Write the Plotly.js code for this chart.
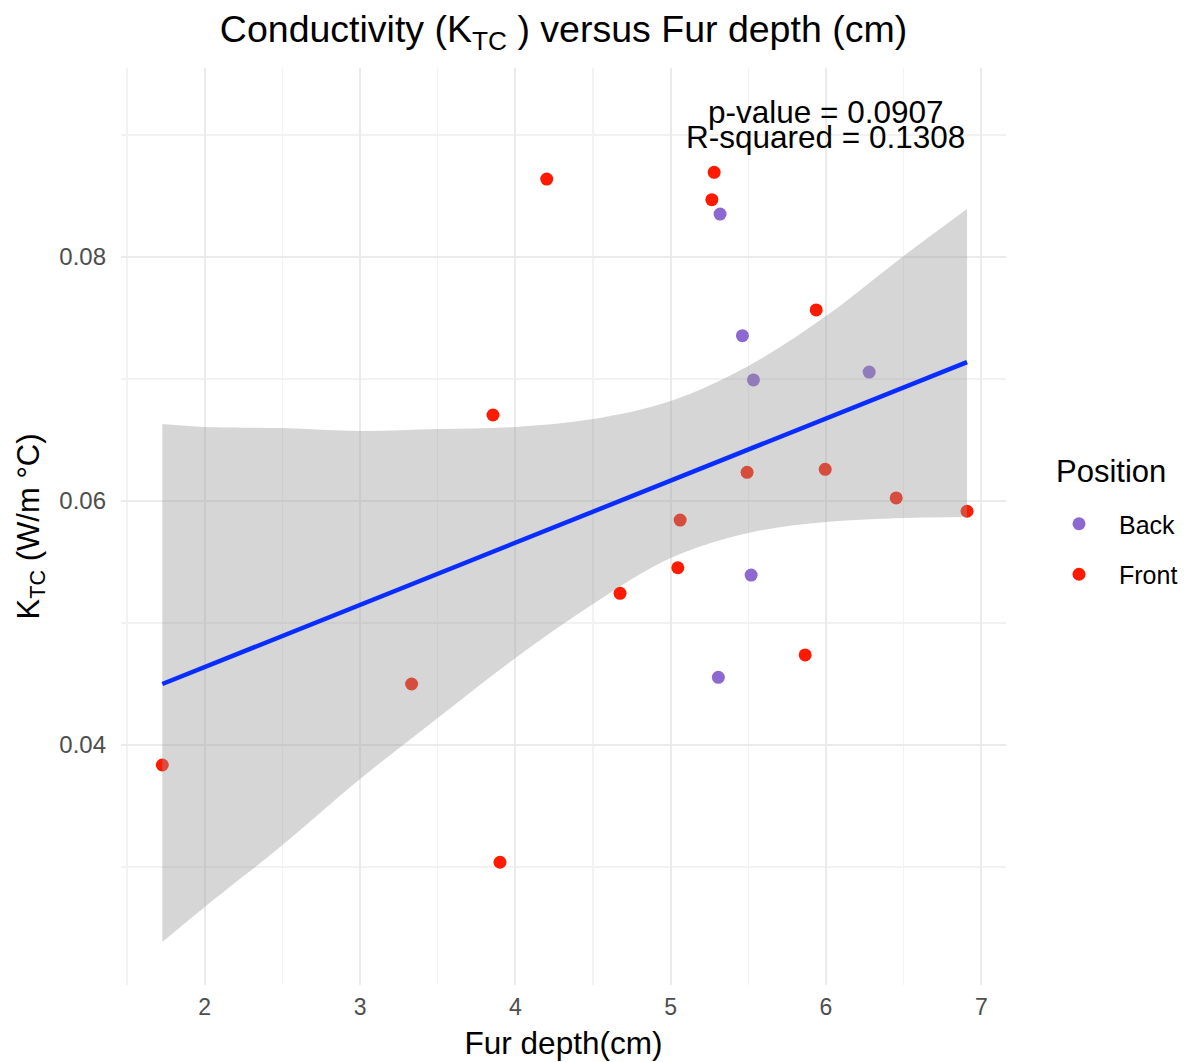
<!DOCTYPE html>
<html>
<head>
<meta charset="utf-8">
<script src="https://cdn.plot.ly/plotly-3.0.1.min.js"></script>
<style>html,body{margin:0;padding:0;background:#fff;}#chart{width:1186px;height:1062px;}</style>
</head>
<body>
<div id="chart"></div>
<script>
// Points
const backX  = [5.318, 5.462, 5.533, 5.518, 5.307, 6.278];
const backY  = [0.08352, 0.07355, 0.06992, 0.05393, 0.04555, 0.07057];
const frontX = [1.727, 3.332, 3.856, 3.901, 4.202, 4.674, 5.046, 5.061, 5.280, 5.265, 5.492, 5.937, 5.995, 5.866, 6.452, 6.908];
const frontY = [0.03836, 0.04500, 0.06705, 0.03039, 0.08639, 0.05243, 0.05453, 0.05844, 0.08694, 0.08470, 0.06235, 0.07566, 0.06260, 0.04738, 0.06025, 0.05916];

// Fitted line and confidence band
const fitX   = [1.727, 6.908];
const fitY   = [0.04500, 0.07139];
const bandX     = [1.727, 2.0, 2.5, 3.0, 3.5, 4.0, 4.5, 5.0, 5.5, 6.0, 6.5, 6.908];
const bandUpper = [0.06631, 0.06607, 0.06598, 0.06574, 0.06590, 0.06607, 0.06672, 0.06820, 0.07107, 0.07516, 0.08008, 0.08393];
const bandLower = [0.02385, 0.02672, 0.03180, 0.03721, 0.04221, 0.04713, 0.05156, 0.05533, 0.05738, 0.05828, 0.05861, 0.05869];

const xTicks = [2, 3, 4, 5, 6, 7];
const yTicks = [0.04, 0.06, 0.08];
const yTickText = ['0.04', '0.06', '0.08'];

const FONT = 'Liberation Sans, Arial, Helvetica, sans-serif';

const traces = [
  {x: backX, y: backY, type: 'scatter', mode: 'markers', name: 'Back', legendgroup: 'b',
   marker: {color: '#8c68d0', size: 13, line: {width: 0}}, hoverinfo: 'skip'},
  {x: frontX, y: frontY, type: 'scatter', mode: 'markers', name: 'Front', legendgroup: 'f',
   marker: {color: '#ff1a00', size: 13, line: {width: 0}}, hoverinfo: 'skip'},
  {x: bandX, y: bandLower, type: 'scatter', mode: 'lines', line: {width: 0, shape: 'spline'},
   showlegend: false, hoverinfo: 'skip'},
  {x: bandX, y: bandUpper, type: 'scatter', mode: 'lines', line: {width: 0, shape: 'spline'},
   fill: 'tonexty', fillcolor: 'rgba(153,153,153,0.4)', showlegend: false, hoverinfo: 'skip'},
  {x: fitX, y: fitY, type: 'scatter', mode: 'lines', line: {color: '#0a2dff', width: 4.5},
   showlegend: false, hoverinfo: 'skip'}
];

const layout = {
  width: 1186, height: 1062,
  margin: {l: 121, r: 180, t: 68, b: 77, autoexpand: false},
  paper_bgcolor: '#ffffff', plot_bgcolor: '#ffffff',
  font: {family: FONT, color: '#000'},
  title: {text: 'Conductivity (K<sub>TC</sub> ) versus Fur depth (cm)', font: {size: 37.5, color: '#000', family: FONT},
          x: 0.5, xref: 'paper', xanchor: 'center', y: 0.973, yref: 'container', yanchor: 'middle'},
  xaxis: {range: [1.461, 7.159], tickvals: xTicks, ticktext: xTicks.map(String),
          showgrid: true, gridcolor: '#ebebeb', gridwidth: 2, zeroline: false, showline: false, ticks: '',
          tickfont: {size: 23, color: '#4d4d4d', family: FONT}, ticklabelstandoff: 6,
          minor: {dtick: 0.5, tick0: 1.5, showgrid: true, gridcolor: '#f2f2f2', gridwidth: 1.2, ticks: ''},
          title: {text: 'Fur depth(cm)', font: {size: 31.5, color: '#000', family: FONT}, standoff: 12}},
  yaxis: {range: [0.02033, 0.09549], tickvals: yTicks, ticktext: yTickText,
          showgrid: true, gridcolor: '#ebebeb', gridwidth: 2, zeroline: false, showline: false, ticks: '',
          tickfont: {size: 24, color: '#4d4d4d', family: FONT}, ticklabelstandoff: 14,
          minor: {dtick: 0.01, tick0: 0.03, showgrid: true, gridcolor: '#f2f2f2', gridwidth: 1.2, ticks: ''},
          title: {text: 'K<sub>TC</sub> (W/m °C)', font: {size: 31, color: '#000', family: FONT}, standoff: 10}},
  legend: {x: 1.0373, xanchor: 'left', y: 0.5278, yanchor: 'top', bgcolor: 'rgba(0,0,0,0)',
           font: {size: 25, color: '#000', family: FONT}, tracegroupgap: 15, itemwidth: 70},
  annotations: [
    {x: 6.0, y: 0.09189, xref: 'x', yref: 'y', text: 'p-value = 0.0907', showarrow: false,
     xanchor: 'center', yanchor: 'middle', font: {size: 31.5, color: '#000', family: FONT}},
    {x: 6.0, y: 0.08984, xref: 'x', yref: 'y', text: 'R-squared = 0.1308', showarrow: false,
     xanchor: 'center', yanchor: 'middle', font: {size: 31.5, color: '#000', family: FONT}},
    {x: 1.0542, y: 0.5605, xref: 'paper', yref: 'paper', text: 'Position', showarrow: false,
     xanchor: 'left', yanchor: 'middle', font: {size: 31, color: '#000', family: FONT}}
  ],
  showlegend: true
};

Plotly.newPlot('chart', traces, layout, {displayModeBar: false, staticPlot: true});
</script>
</body>
</html>
